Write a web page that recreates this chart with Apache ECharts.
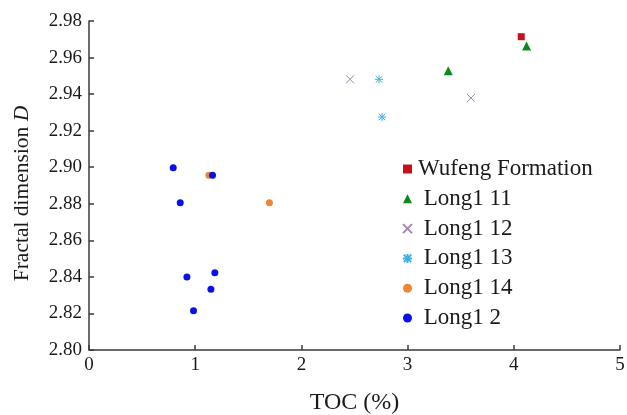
<!DOCTYPE html>
<html>
<head>
<meta charset="utf-8">
<script src="https://cdn.jsdelivr.net/npm/echarts@6/dist/echarts.min.js"></script>
<style>
  html, body { margin: 0; padding: 0; background: #fff; }
  #chart { width: 627px; height: 415px; }
</style>
</head>
<body>
<div id="chart"></div>
<script>
// TOC (%) vs fractal dimension D, grouped by stratigraphic unit
const seriesNames = ['Wufeng Formation', 'Long1 11', 'Long1 12', 'Long1 13', 'Long1 14', 'Long1 2'];

const wufeng = [[4.07, 2.9714]];
const long1_11 = [[4.12, 2.9663], [3.383, 2.9528]];
const long1_12 = [[2.458, 2.9481], [3.597, 2.9379]];
const long1_13 = [[2.731, 2.9481], [2.759, 2.9275]];
const long1_14 = [[1.129, 2.8956], [1.699, 2.8806]];
const long1_2 = [
  [0.793, 2.8997], [1.163, 2.8956], [0.859, 2.8806], [0.922, 2.8400],
  [1.185, 2.8423], [1.148, 2.8332], [0.984, 2.8215]
];

const xTicks = [0, 1, 2, 3, 4, 5];
const yTicks = [2.80, 2.82, 2.84, 2.86, 2.88, 2.90, 2.92, 2.94, 2.96, 2.98];

const FONT = 'Liberation Serif';
const AXIS_COLOR = '#3a3a3a';
const TEXT_COLOR = '#1a1a1a';

const crossPath = 'path://M0,0L10,10M10,0L0,10';
const starPath = 'path://M0,0L10,10M10,0L0,10M5,-1L5,11M-1,5L11,5';

function strokeStyle(color) {
  return { color: 'rgba(0,0,0,0)', borderColor: color, borderWidth: 1, opacity: 1 };
}

const chart = echarts.init(document.getElementById('chart'), null, { renderer: 'canvas' });

chart.setOption({
  backgroundColor: '#ffffff',
  animation: false,
  grid: { left: 89, right: 7, top: 21, bottom: 65, outerBoundsMode: 'none', containLabel: false },
  xAxis: {
    type: 'value',
    min: xTicks[0],
    max: xTicks[xTicks.length - 1],
    interval: 1,
    name: 'TOC (%)',
    nameLocation: 'middle',
    nameGap: 41,
    nameTextStyle: { fontFamily: FONT, fontSize: 24, color: TEXT_COLOR },
    axisLine: { lineStyle: { color: AXIS_COLOR, width: 1.5 } },
    axisTick: { inside: true, length: 5, lineStyle: { color: AXIS_COLOR, width: 1.5 } },
    axisLabel: {
      fontFamily: FONT, fontSize: 19, color: TEXT_COLOR, margin: 6,
      formatter: v => String(v)
    },
    splitLine: { show: false }
  },
  yAxis: {
    type: 'value',
    min: yTicks[0],
    max: yTicks[yTicks.length - 1],
    interval: 0.02,
    name: '{n|Fractal dimension }{i|D}',
    nameLocation: 'middle',
    nameGap: 56,
    nameTextStyle: {
      fontFamily: FONT, fontSize: 21.5, color: TEXT_COLOR,
      padding: [0, 16, 0, 0],
      rich: {
        n: { fontFamily: FONT, fontSize: 21.5, color: TEXT_COLOR },
        i: { fontFamily: FONT, fontSize: 21.5, color: TEXT_COLOR, fontStyle: 'italic' }
      }
    },
    axisLine: { lineStyle: { color: AXIS_COLOR, width: 1.5 } },
    axisTick: { inside: true, length: 5, lineStyle: { color: AXIS_COLOR, width: 1.5 } },
    axisLabel: {
      fontFamily: FONT, fontSize: 19, color: TEXT_COLOR, margin: 7,
      formatter: v => v.toFixed(2)
    },
    splitLine: { show: false }
  },
  legend: {
    orient: 'vertical',
    left: 397,
    top: 152,
    itemWidth: 9,
    itemHeight: 9,
    itemGap: 5.8,
    data: seriesNames,
    formatter: name => (name === 'Wufeng Formation' ? name : ' ' + name),
    textStyle: { fontFamily: FONT, fontSize: 23, color: TEXT_COLOR, padding: [0, 0, 0, 1], lineHeight: 24 }
  },
  series: [
    {
      name: seriesNames[0], type: 'scatter', data: wufeng,
      symbol: 'rect', symbolSize: 7,
      itemStyle: { color: '#c8101a', opacity: 1 }
    },
    {
      name: seriesNames[1], type: 'scatter', data: long1_11,
      symbol: 'triangle', symbolSize: 9,
      itemStyle: { color: '#0a8a1a', opacity: 1 }
    },
    {
      name: seriesNames[2], type: 'scatter', data: long1_12,
      symbol: crossPath, symbolSize: 8,
      itemStyle: strokeStyle('#a286b6')
    },
    {
      name: seriesNames[3], type: 'scatter', data: long1_13,
      symbol: starPath, symbolSize: 8,
      itemStyle: strokeStyle('#3cb2e0')
    },
    {
      name: seriesNames[4], type: 'scatter', data: long1_14,
      symbol: 'circle', symbolSize: 7,
      itemStyle: { color: '#ec8636', opacity: 1 }
    },
    {
      name: seriesNames[5], type: 'scatter', data: long1_2,
      symbol: 'circle', symbolSize: 7,
      itemStyle: { color: '#0a10e8', opacity: 1 }
    }
  ]
});
</script>
</body>
</html>
